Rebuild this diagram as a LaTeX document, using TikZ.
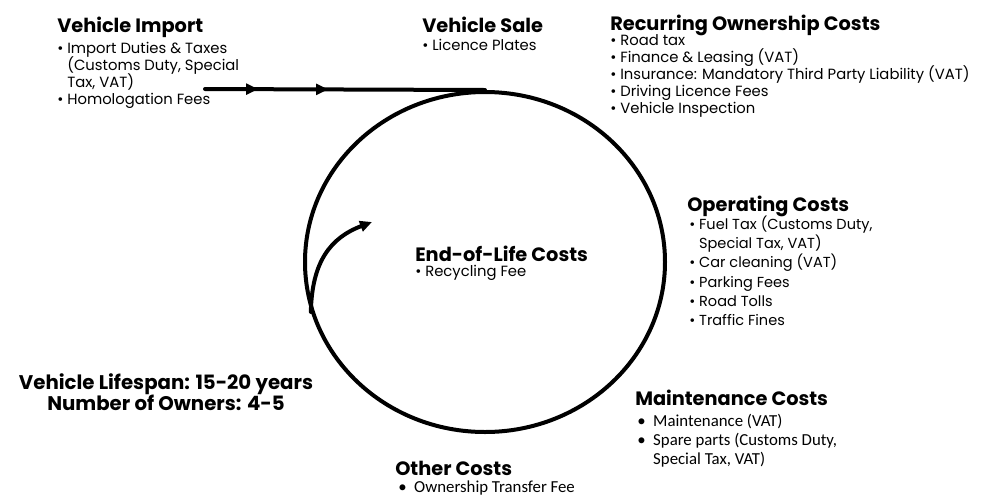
\documentclass[tikz,border=0pt]{standalone}
\usepackage{fontspec}
\setmainfont{Poppins}
\newfontfamily\calib{Carlito}
\usetikzlibrary{shapes.geometric,arrows.meta,decorations.markings}
\lineskiplimit=-100pt
\lineskip=0pt
\newcommand{\ind}{\hphantom{•\ }}
\begin{document}
\begin{tikzpicture}[x=0.75pt,y=-0.75pt,
  head/.style={anchor=base west, inner sep=0pt, font=\fontsize{14.5}{16}\bfseries\selectfont},
  items/.style={anchor=base west, inner sep=0pt, font=\fontsize{11.1}{12.9}\selectfont},
  itemsb/.style={anchor=base west, inner sep=0pt, font=\fontsize{10.9}{14.5}\selectfont},
  itemsc/.style={anchor=base west, inner sep=0pt, font=\calib\fontsize{12.6}{14.4}\selectfont},
  flow/.style={line width=3pt, line cap=round},
  tip/.style={-{Triangle[length=9pt,width=8pt]}}]
\useasboundingbox (0,0) rectangle (983,497);
\fill[white] (0,0) rectangle (983,497);

% cycle
\node[ellipse, draw, line width=3pt, minimum width=270pt, minimum height=255pt, inner sep=0pt] (cyc) at (485,262) {};
\coordinate (start) at (205,89);
\draw[flow, postaction={decorate}, decoration={markings,
   mark=at position 0.19 with {\arrow{Triangle[length=9pt,width=8pt]}},
   mark=at position 0.44 with {\arrow{Triangle[length=9pt,width=8pt]}}}]
   (start) -- (cyc.north);
\coordinate (tipend) at (372,222);
\draw[flow, tip] (cyc.196) .. controls (312,262) and (330,238) .. (tipend);

% texts
\node[head] (imph) at (57,32) {Vehicle Import};
\node[items] (impl) at (57,53) {\vtop{\hbox{• Import Duties \& Taxes}\hbox{\ind(Customs Duty, Special}\hbox{\ind Tax, VAT)}\hbox{• Homologation Fees}}};

\node[head] (saleh) at (422,32) {Vehicle Sale};
\node[items] (salel) at (422,50) {• Licence Plates};

\node[head] (rech) at (610,30) {Recurring Ownership Costs};
\node[items] (recl) at (610,45) {\vtop{\hbox{• Road tax}\hbox{• Finance \& Leasing (VAT)}\hbox{• Insurance: Mandatory Third Party Liability (VAT)}\hbox{• Driving Licence Fees}\hbox{• Vehicle Inspection}}};

\node[head] (oph) at (687,211) {Operating Costs};
\node[itemsb] (opl) at (689,229) {\vtop{\hbox{• Fuel Tax (Customs Duty,}\hbox{\ind Special Tax, VAT)}\hbox{• Car cleaning (VAT)}\hbox{• Parking Fees}\hbox{• Road Tolls}\hbox{• Traffic Fines}}};

\node[head] (eolh) at (415,261) {End-of-Life Costs};
\node[items] (eoll) at (415,276) {• Recycling Fee};

\node[head] (mainh) at (635,405) {Maintenance Costs};
\node[itemsc] (mainl) at (637,426) {\vtop{\hbox{•\ \ Maintenance (VAT)}\hbox{•\ \ Spare parts (Customs Duty,}\hbox{\hphantom{•\ \ }Special Tax, VAT)}}};

\node[head] (othh) at (395,475) {Other Costs};
\node[itemsc] (othl) at (398,492) {•\ \ Ownership Transfer Fee};

\node[head, anchor=base, font=\fontsize{14.8}{16}\bfseries\selectfont] (life) at (166,389) {\vtop{\halign{\hfil#\hfil\cr Vehicle Lifespan: 15-20 years\cr Number of Owners: 4-5\cr}}};
\end{tikzpicture}
\end{document}
